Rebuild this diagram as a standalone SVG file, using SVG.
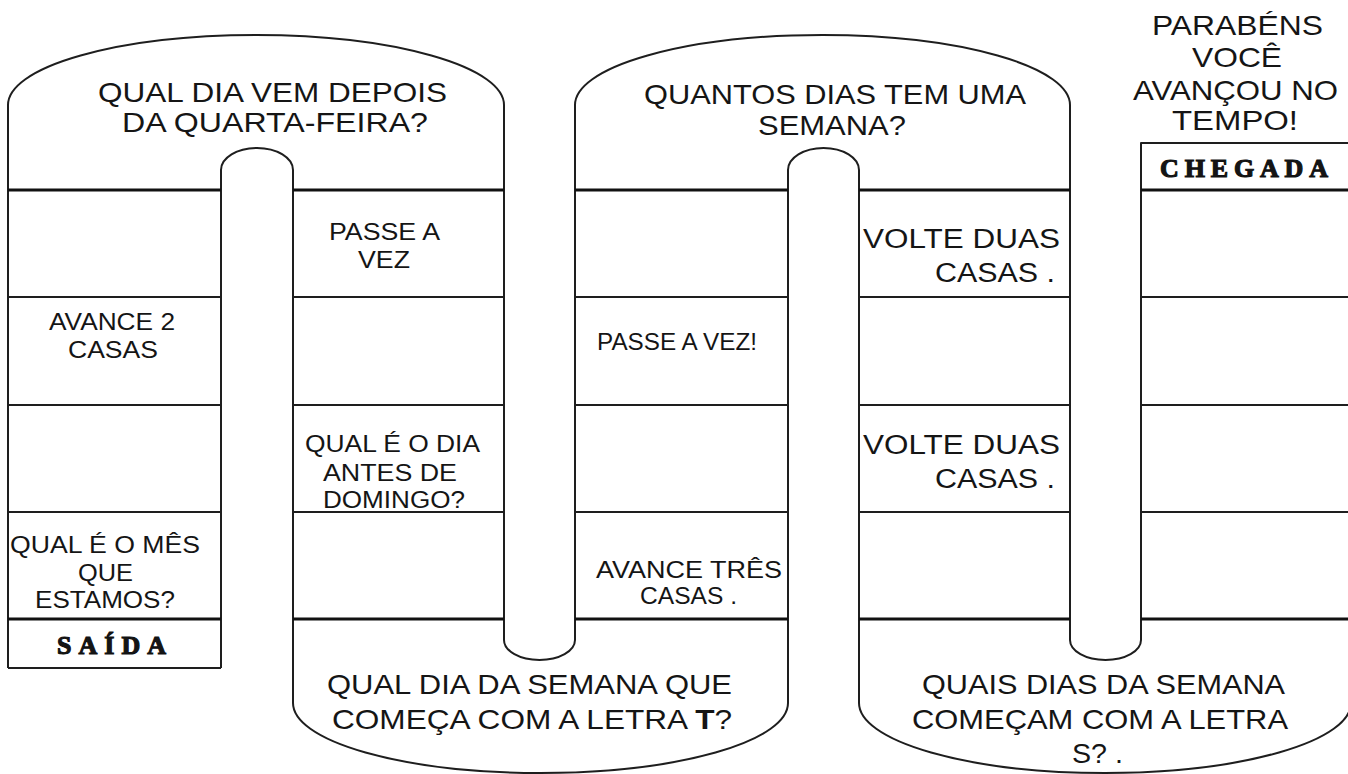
<svg xmlns="http://www.w3.org/2000/svg" width="1348" height="774" viewBox="0 0 1348 774">
<style>
.o{fill:none;stroke:#1e1e1e;stroke-width:2;stroke-linejoin:round}
.r{stroke:#1e1e1e;stroke-width:2}
.t{stroke:#111;stroke-width:3}
text{font-family:"Liberation Sans",Arial,sans-serif;fill:#151515}
.c{font-size:23px}
.b{font-size:28px}
.v{font-size:27px}
.s{font-family:"Liberation Serif","Times New Roman",serif;font-weight:bold;font-size:26px;stroke:#111;stroke-width:1.1}
</style>
<rect width="1348" height="774" fill="#fff"/>
<g id="board">
<path class="o" d="M8,668 L8,105 A248,70 0 0 1 504,105 L504,640 A35.5,20 0 0 0 575,640 L575,105 A247.5,70 0 0 1 1070,105 L1070,640 A35.5,20 0 0 0 1141,640 L1141,143 L1348,143"/>
<path class="o" d="M221,668 L221,170 A36,22 0 0 1 293,170 L293,703 A247.5,70 0 0 0 788,703 L788,170 A35.5,22 0 0 1 859,170 L859,703 A246,70 0 0 0 1351,703 L1351,619"/>
<line class="r" x1="8" y1="668" x2="221" y2="668"/>
<g class="t">
<line x1="8" y1="190" x2="221" y2="190"/><line x1="293" y1="190" x2="504" y2="190"/><line x1="575" y1="190" x2="788" y2="190"/><line x1="859" y1="190" x2="1070" y2="190"/><line x1="1141" y1="190" x2="1348" y2="190"/>
<line x1="8" y1="619" x2="221" y2="619"/><line x1="293" y1="619" x2="504" y2="619"/><line x1="575" y1="619" x2="788" y2="619"/><line x1="859" y1="619" x2="1070" y2="619"/><line x1="1141" y1="619" x2="1348" y2="619"/>
</g>
<g class="r">
<line x1="8" y1="297" x2="221" y2="297"/><line x1="293" y1="297" x2="504" y2="297"/><line x1="575" y1="297" x2="788" y2="297"/><line x1="859" y1="297" x2="1070" y2="297"/><line x1="1141" y1="297" x2="1348" y2="297"/>
<line x1="8" y1="405" x2="221" y2="405"/><line x1="293" y1="405" x2="504" y2="405"/><line x1="575" y1="405" x2="788" y2="405"/><line x1="859" y1="405" x2="1070" y2="405"/><line x1="1141" y1="405" x2="1348" y2="405"/>
<line x1="8" y1="512" x2="221" y2="512"/><line x1="293" y1="512" x2="504" y2="512"/><line x1="575" y1="512" x2="788" y2="512"/><line x1="859" y1="512" x2="1070" y2="512"/><line x1="1141" y1="512" x2="1348" y2="512"/>
</g>
</g>
<g id="connectors"></g>
<g id="saida"><text class="s" x="57" y="654" textLength="109" lengthAdjust="spacing">SAÍDA</text></g>
<g id="c1r4"><text class="c" x="10" y="553" textLength="190" lengthAdjust="spacingAndGlyphs">QUAL É O MÊS</text><text class="c" x="78" y="581" textLength="55" lengthAdjust="spacingAndGlyphs">QUE</text><text class="c" x="35" y="608" textLength="140" lengthAdjust="spacingAndGlyphs">ESTAMOS?</text></g>
<g id="c1r2"><text class="c" x="49" y="330" textLength="126" lengthAdjust="spacingAndGlyphs">AVANCE 2</text><text class="c" x="68" y="358" textLength="90" lengthAdjust="spacingAndGlyphs">CASAS</text></g>
<g id="arch1"><text class="b" x="98" y="102" textLength="349" lengthAdjust="spacingAndGlyphs">QUAL DIA VEM DEPOIS</text><text class="b" x="122" y="132" textLength="306" lengthAdjust="spacingAndGlyphs">DA QUARTA-FEIRA?</text></g>
<g id="c2r1"><text class="c" x="329" y="240" textLength="111" lengthAdjust="spacingAndGlyphs">PASSE A</text><text class="c" x="358" y="268" textLength="52" lengthAdjust="spacingAndGlyphs">VEZ</text></g>
<g id="c2r3"><text class="c" x="305" y="452" textLength="175" lengthAdjust="spacingAndGlyphs">QUAL É O DIA</text><text class="c" x="323" y="481" textLength="134" lengthAdjust="spacingAndGlyphs">ANTES DE</text><text class="c" x="323" y="508" textLength="142" lengthAdjust="spacingAndGlyphs">DOMINGO?</text></g>
<g id="bowl1"><text class="b" x="327" y="694" textLength="405" lengthAdjust="spacingAndGlyphs">QUAL DIA DA SEMANA QUE</text><text class="b" x="332" y="729" textLength="400" lengthAdjust="spacingAndGlyphs">COMEÇA COM A LETRA <tspan font-weight="bold">T</tspan>?</text></g>
<g id="c3r2"><text class="c" x="597" y="350" textLength="160" lengthAdjust="spacingAndGlyphs">PASSE A VEZ!</text></g>
<g id="c3r4"><text class="c" x="596" y="578" textLength="186" lengthAdjust="spacingAndGlyphs">AVANCE TRÊS</text><text class="c" x="640" y="604" textLength="97" lengthAdjust="spacingAndGlyphs">CASAS .</text></g>
<g id="arch2"><text class="b" x="644" y="104" textLength="382" lengthAdjust="spacingAndGlyphs">QUANTOS DIAS TEM UMA</text><text class="b" x="758" y="135" textLength="148" lengthAdjust="spacingAndGlyphs">SEMANA?</text></g>
<g id="c4r1"><text class="v" x="863" y="248" textLength="197" lengthAdjust="spacingAndGlyphs">VOLTE DUAS</text><text class="v" x="935" y="282" textLength="120" lengthAdjust="spacingAndGlyphs">CASAS .</text></g>
<g id="c4r3"><text class="v" x="863" y="454" textLength="197" lengthAdjust="spacingAndGlyphs">VOLTE DUAS</text><text class="v" x="935" y="488" textLength="120" lengthAdjust="spacingAndGlyphs">CASAS .</text></g>
<g id="bowl2"><text class="b" x="922" y="694" textLength="363" lengthAdjust="spacingAndGlyphs">QUAIS DIAS DA SEMANA</text><text class="b" x="912" y="729" textLength="376" lengthAdjust="spacingAndGlyphs">COMEÇAM COM A LETRA</text><text class="b" x="1072" y="763" textLength="51" lengthAdjust="spacingAndGlyphs">S? .</text></g>
<g id="parabens"><text class="b" x="1152" y="35" textLength="171" lengthAdjust="spacingAndGlyphs">PARABÉNS</text><text class="b" x="1192" y="67" textLength="90" lengthAdjust="spacingAndGlyphs">VOCÊ</text><text class="b" x="1133" y="100" textLength="205" lengthAdjust="spacingAndGlyphs">AVANÇOU NO</text><text class="b" x="1172" y="130" textLength="126" lengthAdjust="spacingAndGlyphs">TEMPO!</text></g>
<g id="chegada"><text class="s" x="1160" y="177" textLength="168" lengthAdjust="spacing">CHEGADA</text></g>
</svg>
